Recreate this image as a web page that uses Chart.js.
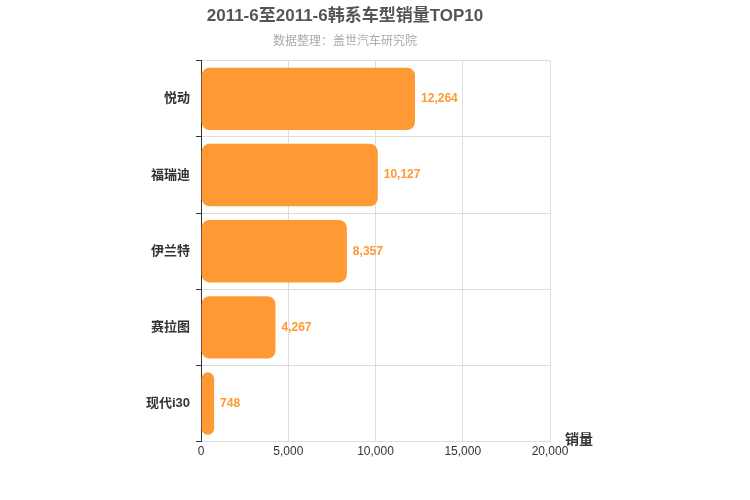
<!DOCTYPE html>
<html>
<head>
<meta charset="utf-8">
<script src="https://cdn.jsdelivr.net/npm/chart.js@4"></script>
<style>
  body { margin: 0; background: #fff; }
  #wrap { width: 750px; height: 500px; }
</style>
</head>
<body>
<div id="wrap"><canvas id="c"></canvas></div>
<script>
// data
const models = ["悦动", "福瑞迪", "伊兰特", "赛拉图", "现代i30"];
const sales = [12264, 10127, 8357, 4267, 748];
const xTicks = [0, 5000, 10000, 15000, 20000];

const font = "Helvetica, Arial, 'Noto Sans CJK SC', sans-serif";

// value labels right of each bar + axis name
const labelPlugin = {
  id: "labels",
  afterDatasetsDraw(chart) {
    const ctx = chart.ctx;
    const meta = chart.getDatasetMeta(0);
    ctx.save();
    ctx.font = "bold 12px " + font;
    ctx.fillStyle = "#FF9933";
    ctx.textBaseline = "middle";
    meta.data.forEach((bar, i) => {
      ctx.fillText(sales[i].toLocaleString("en-US"), bar.x + 6, bar.y);
    });
    const area = chart.chartArea;
    ctx.fillStyle = "#333";
    ctx.font = "bold 14px " + font;
    ctx.fillText("销量", area.right + 15, area.bottom - 1);
    ctx.restore();
  }
};

new Chart(document.getElementById("c"), {
  type: "bar",
  data: {
    labels: models,
    datasets: [{
      data: sales,
      backgroundColor: "#FF9933",
      borderRadius: 8,
      borderSkipped: false,
      barPercentage: 0.82,
      categoryPercentage: 1
    }]
  },
  options: {
    indexAxis: "y",
    responsive: true,
    maintainAspectRatio: false,
    animation: false,
    layout: { padding: { left: 140, right: 200, top: 0, bottom: 38 } },
    plugins: {
      legend: { display: false },
      tooltip: { enabled: false },
      title: {
        display: true,
        text: "2011-6至2011-6韩系车型销量TOP10",
        color: "#555",
        font: { size: 17, weight: "bold", family: font },
        padding: { top: 6, bottom: 8 }
      },
      subtitle: {
        display: true,
        text: "数据整理：盖世汽车研究院",
        color: "#aaa",
        font: { size: 12, family: font },
        padding: { bottom: 12 }
      }
    },
    scales: {
      x: {
        min: 0,
        max: 20000,
        afterBuildTicks: (axis) => { axis.ticks = xTicks.map(v => ({ value: v })); },
        ticks: { color: "#333", font: { size: 12, family: font }, callback: v => v.toLocaleString("en-US") },
        grid: { color: "#ddd", drawTicks: false },
        border: { display: false }
      },
      y: {
        ticks: { color: "#333", font: { size: 13, weight: "bold", family: font }, padding: 6 },
        grid: { color: "#ddd", offset: true, tickLength: 5, tickColor: "#333" },
        border: { display: true, color: "#333" }
      }
    }
  },
  plugins: [labelPlugin]
});
</script>
</body>
</html>
